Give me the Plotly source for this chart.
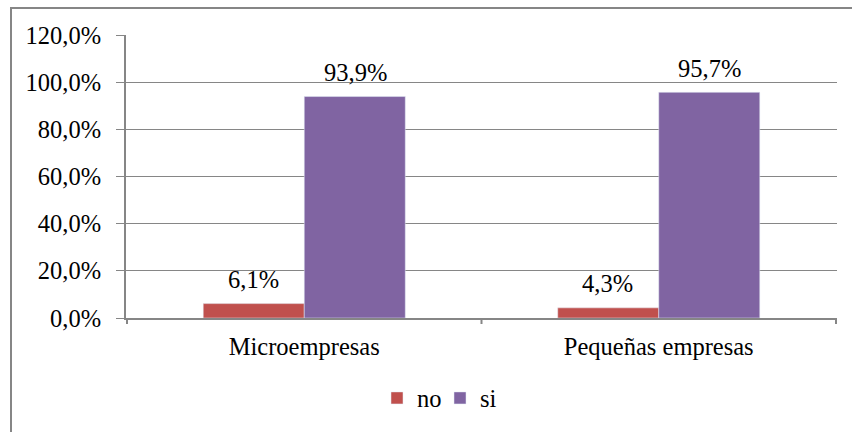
import plotly.graph_objects as go

categories = ["Microempresas", "Pequeñas empresas"]
no_values = [0.061, 0.043]
si_values = [0.939, 0.957]
series_names = ["no", "si"]

W, H = 852, 432
L, R, T, B = 126, 837, 35, 318
pw, ph = R - L, B - T

font = dict(family="Liberation Serif, Times New Roman, serif", size=24.5, color="black")
grid = "#868686"

fig = go.Figure()
fig.add_trace(go.Bar(x=categories, y=no_values, name=series_names[0], marker_color="#C0504D"))
fig.add_trace(go.Bar(x=categories, y=si_values, name=series_names[1], marker_color="#8064A2"))

# data labels centred over each bar of the group
for vals, shift in [(no_values, -51), (si_values, 51)]:
    for c, v in zip(categories, vals):
        fig.add_annotation(x=c, y=v, xref="x", yref="y", text=f"{v*100:.1f}%".replace(".", ","),
                           showarrow=False, xshift=shift, yshift=24, yanchor="middle",
                           font=font)

fig.update_layout(
    width=W, height=H,
    margin=dict(l=L, r=W - R, t=T, b=H - B),
    paper_bgcolor="white", plot_bgcolor="white",
    font=font,
    separators=",.",
    barmode="group", bargap=0.43, bargroupgap=0,
    showlegend=True,
    legend=dict(orientation="h", x=(440 - L) / pw, xanchor="center",
                y=(B - 398) / ph, yanchor="middle", font=font,
                entrywidth=18, traceorder="normal"),
    xaxis=dict(showline=True, linecolor=grid, linewidth=2, ticks="",
               showgrid=False, tickfont=font, ticklabelstandoff=6),
    yaxis=dict(range=[0, 1.2], dtick=0.2, tickformat=".1%", showline=True,
               linecolor=grid, linewidth=2, ticks="outside", ticklen=8,
               tickcolor=grid, showgrid=True, gridcolor=grid, gridwidth=1,
               tickfont=font, zeroline=False, ticklabelstandoff=10),
    shapes=[
        dict(type="rect", xref="paper", yref="paper",
             x0=(11 - L) / pw, x1=(870 - L) / pw,
             y0=(B - 450) / ph, y1=(B - 8) / ph,
             line=dict(color=grid, width=2), fillcolor="rgba(0,0,0,0)", layer="below"),
    ],
)
# category boundary ticks on x axis
for xv in [-0.5, 0.5, 1.5]:
    fig.add_shape(type="line", xref="x", yref="paper", x0=xv, x1=xv,
                  y0=0, y1=-6 / ph, line=dict(color=grid, width=2))

fig.write_html("out.html", config={"displayModeBar": False},
               post_script="document.body.style.margin='0';")
